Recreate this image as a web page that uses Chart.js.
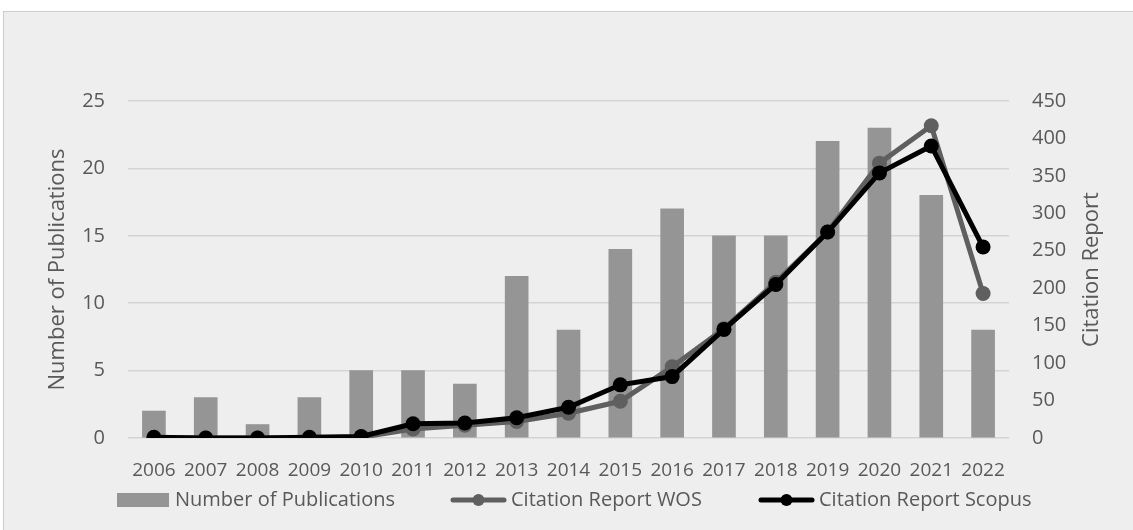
<!DOCTYPE html>
<html lang="en">
<head>
  <meta charset="UTF-8">
  <title>Publications and Citations</title>
  <style>
    body {
      margin: 0;
      background: #ffffff;
      font-family: "Open Sans", sans-serif;
    }
    /* grey chart panel, as in the Excel export */
    .panel {
      position: absolute;
      left: 3px;
      top: 11px;
      width: 1140px;
      height: 530px;
      background: #eeeeee;
      border-left: 1px solid #cccccc;
      border-top: 1px solid #cccccc;
    }
    .wrap {
      position: absolute;
      left: 0;
      top: 0;
      width: 1133px;
      height: 530px;
    }
  </style>
  <script src="https://cdn.jsdelivr.net/npm/chart.js"></script>
</head>
<body>
  <div class="panel"></div>
  <div class="wrap"><canvas id="chart"></canvas></div>

  <script>
    // data
    const years = ['2006', '2007', '2008', '2009', '2010', '2011', '2012', '2013', '2014',
                   '2015', '2016', '2017', '2018', '2019', '2020', '2021', '2022'];
    const publications = [2, 3, 1, 3, 5, 5, 4, 12, 8, 14, 17, 15, 15, 22, 23, 18, 8];
    const citationsWos = [0, 0, 0, 0, 1, 12, 17, 22, 33, 49, 95, 146, 208, 275, 367, 417, 193];
    const citationsScopus = [1, 0, 0, 1, 2, 19, 20, 27, 41, 71, 82, 145, 205, 275, 354, 390, 255];

    const textColor = '#595959';
    const fontFamily = '"Open Sans", sans-serif';
    const barColor = '#959595';
    const wosColor = '#5f5f5f';
    const scopusColor = '#000000';

    // axis titles and legend drawn by hand so they sit where Excel put them
    const extrasPlugin = {
      id: 'extras',
      afterDraw(chart) {
        const ctx = chart.ctx;
        const area = chart.chartArea;
        const midY = (area.top + area.bottom) / 2;

        ctx.save();
        ctx.fillStyle = textColor;
        ctx.font = '22px ' + fontFamily;
        ctx.textAlign = 'center';
        ctx.textBaseline = 'middle';

        ctx.save();
        ctx.translate(58, midY);
        ctx.rotate(-Math.PI / 2);
        ctx.fillText('Number of Publications', 0, 0);
        ctx.restore();

        ctx.save();
        ctx.translate(1092, midY);
        ctx.rotate(-Math.PI / 2);
        ctx.fillText('Citation Report', 0, 0);
        ctx.restore();

        // legend
        const ly = 500;
        ctx.font = '20px ' + fontFamily;
        ctx.textAlign = 'left';

        ctx.fillStyle = barColor;
        ctx.fillRect(117, 493, 52, 14);
        ctx.fillStyle = textColor;
        ctx.fillText('Number of Publications', 175, ly);

        const lineItems = [
          { x: 451, color: wosColor, label: 'Citation Report WOS' },
          { x: 759, color: scopusColor, label: 'Citation Report Scopus' }
        ];
        lineItems.forEach(item => {
          ctx.strokeStyle = item.color;
          ctx.lineWidth = 5;
          ctx.lineCap = 'round';
          ctx.beginPath();
          ctx.moveTo(item.x + 2, ly);
          ctx.lineTo(item.x + 53, ly);
          ctx.stroke();
          ctx.fillStyle = item.color;
          ctx.beginPath();
          ctx.arc(item.x + 27.5, ly, 6, 0, Math.PI * 2);
          ctx.fill();
          ctx.fillStyle = textColor;
          ctx.fillText(item.label, item.x + 60, ly);
        });
        ctx.restore();
      }
    };

    const ctx = document.getElementById('chart').getContext('2d');
    new Chart(ctx, {
      data: {
        labels: years,
        datasets: [
          {
            type: 'line',
            label: 'Citation Report Scopus',
            data: citationsScopus,
            yAxisID: 'y1',
            borderColor: scopusColor,
            backgroundColor: scopusColor,
            borderWidth: 5,
            pointRadius: 7.5,
            pointBorderWidth: 0,
            tension: 0,
            order: 1
          },
          {
            type: 'line',
            label: 'Citation Report WOS',
            data: citationsWos,
            yAxisID: 'y1',
            borderColor: wosColor,
            backgroundColor: wosColor,
            borderWidth: 5,
            pointRadius: 7.5,
            pointBorderWidth: 0,
            tension: 0,
            order: 2
          },
          {
            type: 'bar',
            label: 'Number of Publications',
            data: publications,
            yAxisID: 'y',
            backgroundColor: barColor,
            barThickness: 23,
            order: 3
          }
        ]
      },
      options: {
        responsive: true,
        maintainAspectRatio: false,
        animation: false,
        layout: { padding: { top: 101, left: 0, right: 0, bottom: 0 } },
        plugins: {
          legend: { display: false },
          tooltip: { enabled: false }
        },
        scales: {
          x: {
            grid: { display: false },
            border: { display: false },
            ticks: {
              color: textColor,
              font: { family: fontFamily, size: 19 },
              padding: 13,
              maxRotation: 0,
              autoSkip: false
            },
            afterFit(scale) { scale.height = 92; }
          },
          y: {
            position: 'left',
            min: 0,
            max: 25,
            ticks: {
              stepSize: 5,
              color: textColor,
              font: { family: fontFamily, size: 20 },
              padding: 23
            },
            grid: { color: '#d4d4d4', lineWidth: 1.5, drawTicks: false },
            border: { display: false },
            afterFit(scale) { scale.width = 128; }
          },
          y1: {
            position: 'right',
            min: 0,
            max: 450,
            ticks: {
              stepSize: 50,
              color: textColor,
              font: { family: fontFamily, size: 20 },
              padding: 23
            },
            grid: { drawOnChartArea: false, drawTicks: false },
            border: { display: false },
            afterFit(scale) { scale.width = 124; }
          }
        }
      },
      plugins: [extrasPlugin]
    });
  </script>
</body>
</html>
